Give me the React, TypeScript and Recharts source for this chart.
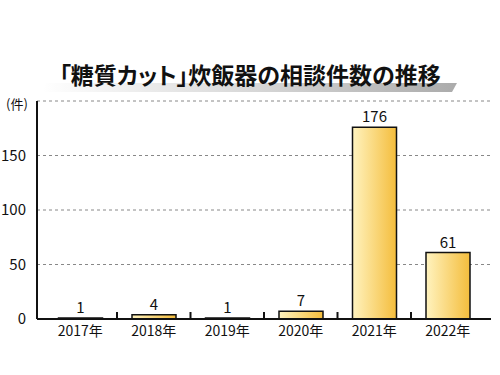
import { BarChart, Bar, XAxis, YAxis, CartesianGrid, LabelList } from "recharts";

const years = ["2017年", "2018年", "2019年", "2020年", "2021年", "2022年"];
const counts = [1, 4, 1, 7, 176, 61];
const yTicks = [0, 50, 100, 150];

const FONT = '"Noto Sans CJK JP", "Noto Sans", sans-serif';
const HALF_BAND = 36.75; // half of a category slot, for the separator ticks

const data = years.map((year, i) => ({ year, count: counts[i] }));

const YearTick = (props: any) => {
  const { x, y, payload } = props;
  const idx = years.indexOf(payload.value);
  return (
    <g>
      <text x={x} y={y + 17} textAnchor="middle" fontSize={14} fill="#111" fontFamily={FONT}>
        {payload.value}
      </text>
      {idx < years.length - 1 && (
        <line x1={x + HALF_BAND} x2={x + HALF_BAND} y1={y - 7} y2={y + 1} stroke="#111" strokeWidth={2} />
      )}
    </g>
  );
};

const App = () => {
  return (
    <div style={{ position: "relative", width: 500, height: 375, background: "#fff", fontFamily: FONT }}>
      <style>{"body{margin:0}"}</style>
      {/* grey swoosh under the title */}
      <svg width={500} height={100} style={{ position: "absolute", left: 0, top: 0 }}>
        <defs>
          <linearGradient id="swoosh" x1="0" y1="0" x2="1" y2="0">
            <stop offset="0" stopColor="#ffffff" />
            <stop offset="0.5" stopColor="#d8d8d8" />
            <stop offset="1" stopColor="#ababab" />
          </linearGradient>
        </defs>
        <polygon points="42,92 452,92 457,83 46,83" fill="url(#swoosh)" />
      </svg>
      <div
        style={{
          position: "absolute",
          left: 0,
          top: 57,
          width: 500,
          textAlign: "center",
          fontSize: 23,
          fontWeight: 700,
          color: "#111",
          fontFeatureSettings: '"palt"',
        }}
      >
        「糖質カット」炊飯器の相談件数の推移
      </div>
      <div style={{ position: "absolute", left: 6, top: 94, fontSize: 13, color: "#111" }}>(件)</div>
      <div style={{ position: "absolute", left: 0, top: 0 }}>
        <BarChart width={500} height={375} data={data} margin={{ top: 101, right: 9, bottom: 31, left: 0 }}>
          <defs>
            <linearGradient id="barFill" x1="0" y1="0" x2="1" y2="0">
              <stop offset="0" stopColor="#fff3bf" />
              <stop offset="1" stopColor="#f4bd3c" />
            </linearGradient>
          </defs>
          <CartesianGrid vertical={false} stroke="#888" strokeDasharray="3 3" />
          <XAxis xAxisId="top" orientation="top" height={0} tick={false} tickLine={false} axisLine={{ stroke: "#111", strokeWidth: 2 }} />
          <YAxis yAxisId="right" orientation="right" width={0} tick={false} tickLine={false} axisLine={{ stroke: "#111", strokeWidth: 2 }} />
          <YAxis
            domain={[0, 200]}
            ticks={yTicks}
            width={37}
            axisLine={{ stroke: "#111", strokeWidth: 2 }}
            tickLine={false}
            tickMargin={5}
            tick={{ fontSize: 15, fill: "#111", fontFamily: FONT }}
          />
          <XAxis
            dataKey="year"
            padding={{ left: 6.5, right: 6.5 }}
            axisLine={{ stroke: "#111", strokeWidth: 2 }}
            tickLine={false}
            tickSize={0}
            tickMargin={0}
            tick={YearTick}
            height={25}
            interval={0}
          />
          <Bar dataKey="count" barSize={44} fill="url(#barFill)" stroke="#111" strokeWidth={1.5} isAnimationActive={false}>
            <LabelList dataKey="count" position="top" offset={5} fontSize={15} fill="#111" fontFamily={FONT} />
          </Bar>
        </BarChart>
      </div>
    </div>
  );
};

export default App;
